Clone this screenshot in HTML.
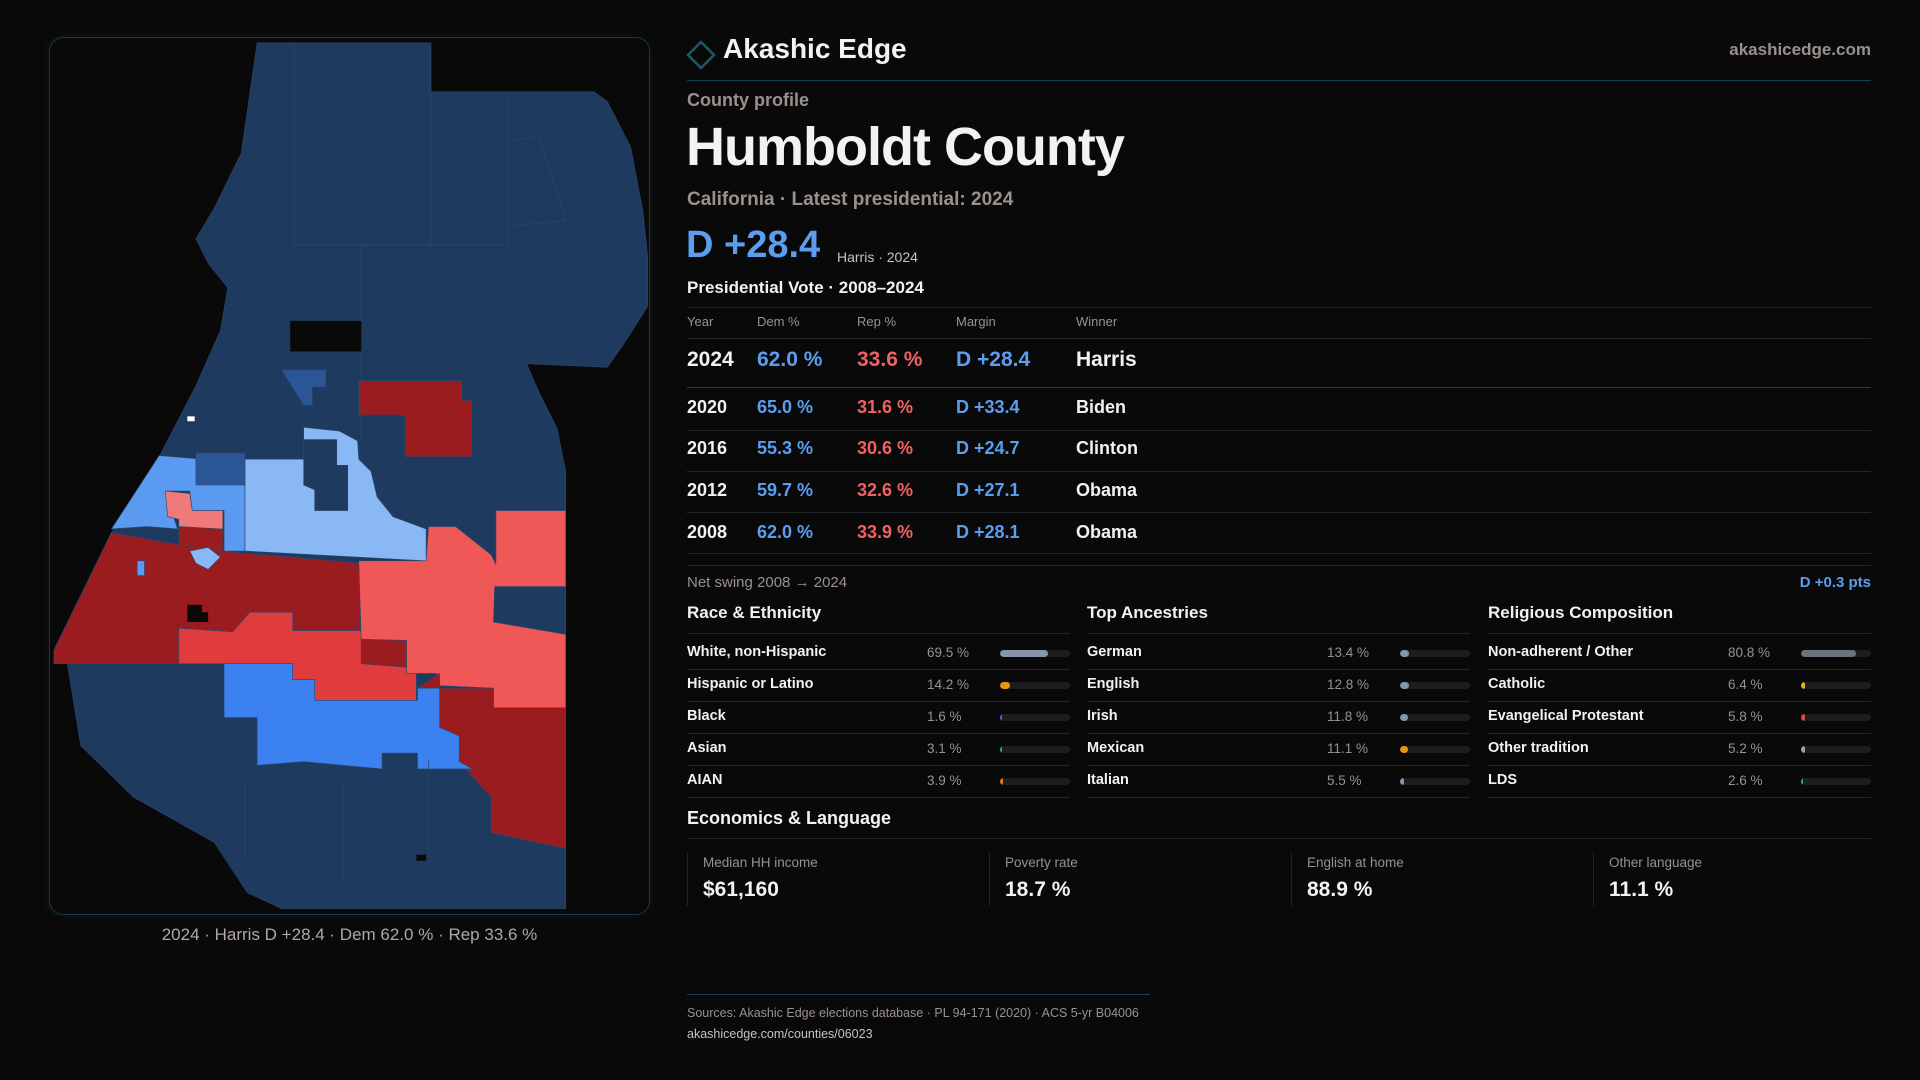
<!DOCTYPE html>
<html><head><meta charset="utf-8">
<style>
*{margin:0;padding:0;box-sizing:border-box}
body{width:1920px;height:1080px;background:#0a0909;font-family:"Liberation Sans",sans-serif;color:#f2f2f2;position:relative;overflow:hidden}
.a{position:absolute;white-space:nowrap}
.g{color:#9a918c}
.b{color:#5b9ef0}.r{color:#f06262}
.ln{position:absolute;height:1px;background:#24262a}
.bar{position:absolute;height:7px;width:70px;background:#1b1d21;border-radius:4px;overflow:hidden}
.bar i{position:absolute;left:0;top:0;bottom:0;border-radius:4px}
</style></head><body>
<div class="a" style="left:49px;top:37px;width:601px;height:878px;border:1px solid #163b42;border-radius:14px;box-shadow:0 0 12px rgba(20,90,100,.15)"></div>
<svg class="a" style="left:0;top:0" width="1920" height="1080" viewBox="0 0 1568 882">
<g stroke="#2b4870" stroke-width="0.5">
<path d="M210,35 L352,35 L352,75 L485,75 L496,83 L515,120 L525,172 L529,210 L529,250 L510,280 L496,300 L430,297 L440,320 L455,350 L462,385 L462,742 L230,742 L202,729 L175,688 L109,651 L66,609 L55,542 L44,531 L91,435 L131,371 L160,315 L180,270 L186,235 L170,215 L160,195 L175,170 L197,125 Z" fill="#1f3a5f"/>
<path d="M293,311 L377,311 L377,327 L385,327 L385,373 L331,373 L331,339 L293,339 Z" fill="#9b1c1f"/>
<path d="M44,531 L91,435 L120,440 L146,445 L182,450 L200,452 L238,455 L294,460 L294,515 L239,515 L239,500 L204,500 L190,516 L146,513 L146,542 L44,542 Z" fill="#9b1c1f"/>
<path d="M146,513 L190,516 L204,500 L239,500 L239,515 L295,515 L295,523 L332,523 L332,550 L340,550 L340,572 L257,572 L257,555 L239,555 L239,542 L146,542 Z" fill="#e03c3e"/>
<path d="M293,458 L348,458 L350,430 L372,430 L401,453 L405,461 L405,417 L462,417 L462,479 L404,479 L403,508 L462,518 L462,578 L403,578 L403,562 L359,560 L357,550 L332,550 L332,523 L295,523 Z" fill="#f05858"/>
<path d="M295,522 L332,523 L332,545 L295,542 Z" fill="#9b1c1f"/>
<path d="M341,562 L359,550 L359,562 L403,562 L403,578 L462,578 L462,693 L401,680 L401,651 L375,622 L375,601 L359,594 L359,562 Z" fill="#9b1c1f"/>
<path d="M183,542 L239,542 L239,555 L257,555 L257,572 L341,572 L341,562 L359,562 L359,594 L375,601 L375,622 L386,628 L341,628 L341,615 L312,615 L312,628 L248,622 L210,625 L210,586 L183,586 Z" fill="#3b82f0"/>
<path d="M200,375 L248,375 L248,349 L277,352 L292,360 L293,375 L303,385 L308,406 L321,422 L348,432 L348,458 L200,450 Z" fill="#8ab8f5"/>
<path d="M248,359 L275,359 L275,380 L284,380 L284,417 L257,417 L257,400 L248,396 Z" fill="#1f3a5f"/>
<path d="M91,432 L130,372 L165,375 L200,375 L200,450 L183,450 L183,417 L157,417 L155,401 L135,401 L145,432 L120,430 Z" fill="#5a9af0"/>
<path d="M135,401 L155,403 L157,417 L182,417 L182,437 L146,430 L146,424 L137,422 Z" fill="#f07a7a"/>
<path d="M146,430 L182,432 L182,450 L146,445 Z" fill="#9b1c1f"/>
<path d="M230,302 L266,302 L266,316 L255,316 L255,331 L248,331 Z" fill="#2a5597"/>
<path d="M160,370 L200,370 L200,396 L160,396 Z" fill="#2a5597"/>
<path d="M155,450 L170,447 L180,455 L170,465 L160,460 Z" fill="#8ab8f5"/>
<path d="M112,458 L118,458 L118,470 L112,470 Z" fill="#5a9af0"/>
</g>
<rect x="237" y="262" width="58" height="25" fill="#0a0909"/>
<rect x="153" y="340" width="6" height="4" fill="#fff"/>
<path d="M153,494 L165,494 L165,500 L170,500 L170,508 L153,508 Z" fill="#0a0909"/>
<path d="M340,698 L348,698 L348,703 L340,703 Z" fill="#0a0909"/>
<g fill="none" stroke="#2b4870" stroke-width="0.6">
<path d="M240,35 L240,200 L352,200 L352,75 M415,75 L415,200 L352,200 M415,115 L440,112 L462,180 L415,185 M295,200 L295,262 M295,287 L295,360 M350,620 L350,700 M280,640 L280,720 M200,640 L200,700"/>
</g>
</svg>
<div class="a" style="left:49px;width:601px;top:925px;text-align:center;font-size:17px;color:#b0a8a2">2024 · Harris D +28.4 · Dem 62.0 % · Rep 33.6 %</div>

<svg class="a" style="left:686px;top:40px" width="30" height="30"><path d="M15,2 L28,15 L15,28 L2,15 Z" fill="none" stroke="#1b5a66" stroke-width="2.5"/></svg>
<div class="a" style="left:723px;top:33px;font-size:28px;font-weight:bold">Akashic Edge</div>
<div class="a g" style="right:49px;top:40px;font-size:17px;font-weight:bold">akashicedge.com</div>
<div class="ln" style="left:687px;width:1184px;top:80px;background:#12434d"></div>
<div class="a g" style="left:687px;top:90px;font-size:18px;font-weight:bold">County profile</div>
<div class="a" style="left:686px;top:116px;font-size:54px;font-weight:bold;letter-spacing:-1px">Humboldt County</div>
<div class="a g" style="left:687px;top:189px;font-size:19px;font-weight:bold">California · Latest presidential: 2024</div>
<div class="a b" style="left:686px;top:224px;font-size:38px;font-weight:bold">D +28.4</div>
<div class="a" style="left:837px;top:249px;font-size:14px;color:#c8c2be">Harris · 2024</div>
<div class="a" style="left:687px;top:278px;font-size:17px;font-weight:bold">Presidential Vote · 2008–2024</div>
<div class="ln" style="left:687px;width:1184px;top:307px"></div>
<div class="a g" style="left:687px;top:314px;font-size:13px">Year</div>
<div class="a g" style="left:757px;top:314px;font-size:13px">Dem %</div>
<div class="a g" style="left:857px;top:314px;font-size:13px">Rep %</div>
<div class="a g" style="left:956px;top:314px;font-size:13px">Margin</div>
<div class="a g" style="left:1076px;top:314px;font-size:13px">Winner</div>
<div class="ln" style="left:687px;width:1184px;top:338px"></div>
<div id="vt"></div>
<div class="a g" style="left:687px;top:574px;font-size:15px">Net swing 2008 → 2024</div>
<div class="a b" style="right:49px;top:574px;font-size:15px;font-weight:bold">D +0.3 pts</div>
<div id="demo"></div>
<div class="a" style="left:687px;top:808px;font-size:18px;font-weight:bold">Economics &amp; Language</div>
<div class="ln" style="left:687px;width:1184px;top:838px"></div>
<div id="econ"></div>
<div class="ln" style="left:687px;width:463px;top:994px;background:#12434d"></div>
<div class="a g" style="left:687px;top:1006px;font-size:12.5px">Sources: Akashic Edge elections database · PL 94-171 (2020) · ACS 5-yr B04006</div>
<div class="a" style="left:687px;top:1027px;font-size:12.5px;color:#c8c2be">akashicedge.com/counties/06023</div>
<script>
const years=["2024","2020","2016","2012","2008"];
const demPct=[62.0,65.0,55.3,59.7,62.0];
const repPct=[33.6,31.6,30.6,32.6,33.9];
const winners=["Harris","Biden","Clinton","Obama","Obama"];
const raceLabels=["White, non-Hispanic","Hispanic or Latino","Black","Asian","AIAN"];
const raceVals=[69.5,14.2,1.6,3.1,3.9];
const ancLabels=["German","English","Irish","Mexican","Italian"];
const ancVals=[13.4,12.8,11.8,11.1,5.5];
const relLabels=["Non-adherent / Other","Catholic","Evangelical Protestant","Other tradition","LDS"];
const relVals=[80.8,6.4,5.8,5.2,2.6];
const econLabels=["Median HH income","Poverty rate","English at home","Other language"];
const econVals=["$61,160","18.7 %","88.9 %","11.1 %"];

const vt=document.getElementById('vt');
const rowY=[361,408,449,491,533], lineY=[387,430,471,512,553];
years.forEach((y,i)=>{
  const big=i===0, fs=big?21:18, top=rowY[i]-fs*0.6;
  const m=demPct[i]-repPct[i];
  const cells=[[687,y,'#f2f2f2'],[757,demPct[i].toFixed(1)+' %','#5b9ef0'],[857,repPct[i].toFixed(1)+' %','#f06262'],[956,(m>=0?'D +':'R +')+Math.abs(m).toFixed(1),'#5b9ef0'],[1076,winners[i],'#f2f2f2']];
  cells.forEach((c,j)=>{
    const d=document.createElement('div');
    d.className='a';
    
    
    d.style.cssText=`left:${c[0]}px;top:${top}px;font-size:${fs}px;font-weight:bold;color:${c[2]}`;
    d.textContent=c[1];vt.appendChild(d);
  });
  const l=document.createElement('div');l.className='ln';
  
  
  l.style.cssText=`left:687px;width:1184px;top:${lineY[i]}px;${i===0?'background:#36383c':''}`;
  vt.appendChild(l);
});
const l2=document.createElement('div');l2.className='ln';


l2.style.cssText='left:687px;width:1184px;top:565px';vt.appendChild(l2);

const demo=document.getElementById('demo');
const groups=[["Race & Ethnicity",raceLabels,raceVals,["#8795ab","#e8940c","#6b5bd6","#1fb08f","#e07a10"],687],
["Top Ancestries",ancLabels,ancVals,["#8795ab","#8795ab","#8795ab","#e8940c","#8795ab"],1087],
["Religious Composition",relLabels,relVals,["#6b7280","#e0b020","#e04848","#9aa0a8","#1fb0a0"],1488]];
groups.forEach(g=>{
  const x=g[4];
  const h=document.createElement('div');h.className='a';
  
  
  h.style.cssText=`left:${x}px;top:603px;font-size:17px;font-weight:bold`;h.textContent=g[0];demo.appendChild(h);
  const hl=document.createElement('div');hl.className='ln';
  
  
  hl.style.cssText=`left:${x}px;width:383px;top:633px`;demo.appendChild(hl);
  g[1].forEach((lab,i)=>{
    const cy=653+i*32;
    const a=document.createElement('div');a.className='a';
    
    
    a.style.cssText=`left:${x}px;top:${cy-9}px;font-size:14.5px;font-weight:bold`;a.textContent=lab;demo.appendChild(a);
    const v=document.createElement('div');v.className='a g';
    
    
    v.style.cssText=`left:${x+240}px;top:${cy-8}px;font-size:13.5px`;v.textContent=g[2][i].toFixed(1)+' %';demo.appendChild(v);
    const b=document.createElement('div');b.className='bar';
    
    
    b.style.cssText=`left:${x+313}px;top:${cy-3}px`;
    const f=document.createElement('i');
    
    
    f.style.width=Math.max(2,g[2][i]/100*70*0.98)+'px';f.style.background=g[3][i];
    b.appendChild(f);demo.appendChild(b);
    const rl=document.createElement('div');rl.className='ln';
    
    
    rl.style.cssText=`left:${x}px;width:383px;top:${cy+16}px`;demo.appendChild(rl);
  });
});
const econ=document.getElementById('econ');
econLabels.forEach((lab,i)=>{
  const x=687+i*302;
  const c=document.createElement('div');c.className='a';
  
  
  c.style.cssText=`left:${x}px;top:852px;width:290px;height:54px;border-left:1px solid #202226;padding-left:15px`;
  c.innerHTML=`<div style="font-size:13.5px;color:#9a918c;margin-top:3px">${lab}</div><div style="font-size:21px;font-weight:bold;margin-top:8px">${econVals[i]}</div>`;
  econ.appendChild(c);
});
</script>
</body></html>
